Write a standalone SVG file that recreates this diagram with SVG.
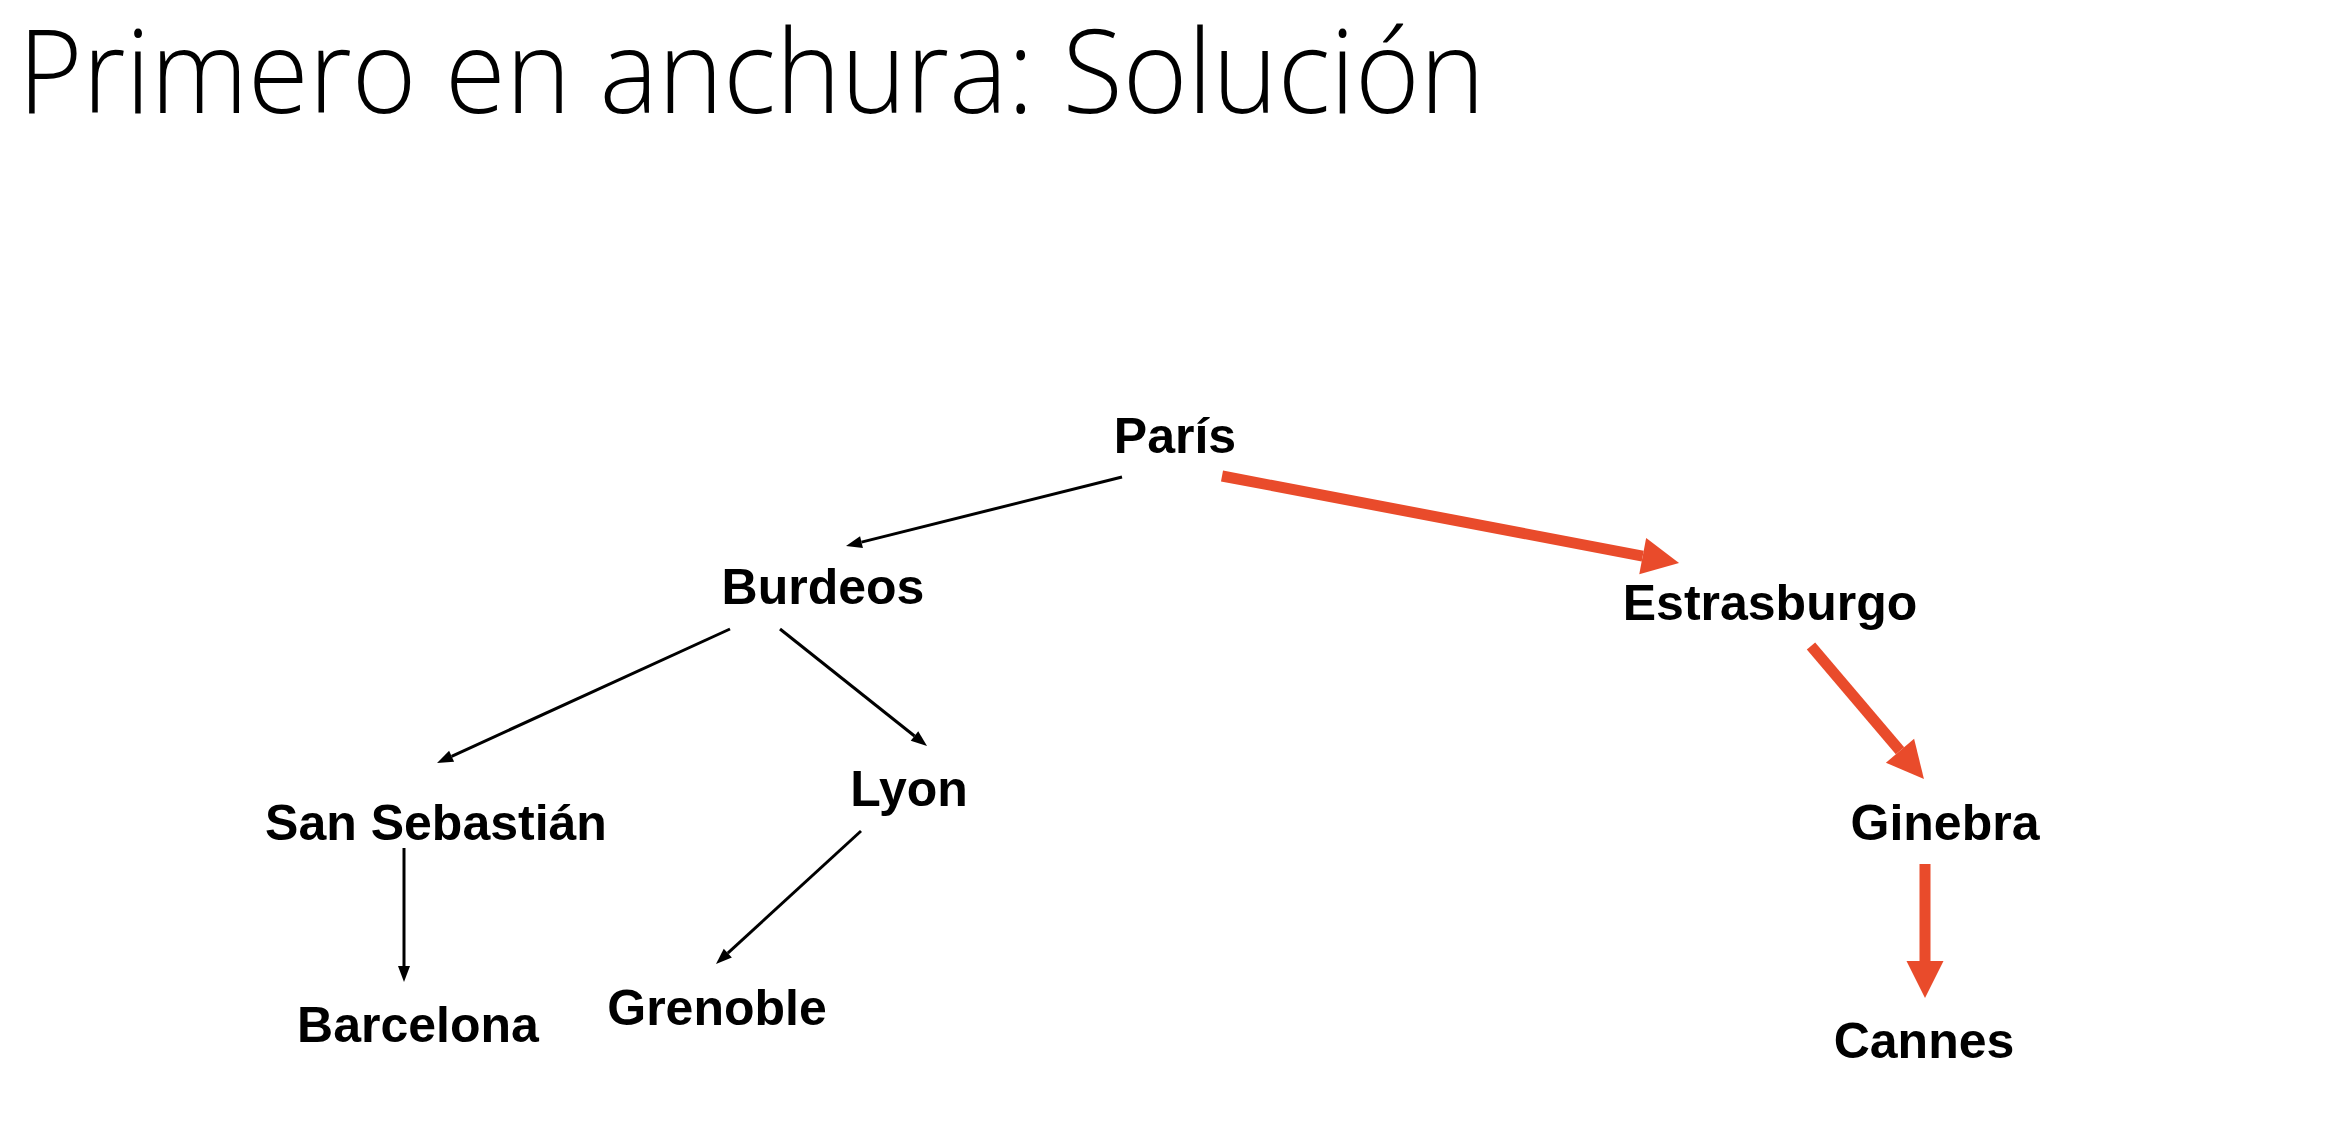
<svg xmlns="http://www.w3.org/2000/svg" width="2328" height="1130" viewBox="0 0 2328 1130">
<style>
.title{font-family:"Open Sans","Liberation Sans",sans-serif;font-weight:300;font-size:116px;fill:#000}
.lbl{font-family:"Liberation Sans",Arial,sans-serif;font-weight:bold;font-size:50px;fill:#000;text-anchor:middle}
.blk{stroke:#000;stroke-width:3;fill:none;marker-end:url(#ah)}
.red{stroke:#E94B2B;stroke-width:11;fill:none;marker-end:url(#ahr)}
</style>
<defs>
<marker id="ah" markerUnits="userSpaceOnUse" markerWidth="16" markerHeight="12" refX="0" refY="6" orient="auto" overflow="visible">
<path d="M0,0 L16,6 L0,12 z" fill="#000"/>
</marker>
<marker id="ahr" markerUnits="userSpaceOnUse" markerWidth="37" markerHeight="37" refX="0" refY="18.5" orient="auto" overflow="visible">
<path d="M0,0 L37,18.5 L0,37 z" fill="#E94B2B"/>
</marker>
</defs>
<rect width="2328" height="1130" fill="#fff"/>
<text class="title" x="18" y="113" textLength="1467" lengthAdjust="spacingAndGlyphs">Primero en anchura: Solución</text>
<g id="connectors">
<line class="blk" x1="1122" y1="477" x2="861.5" y2="542.1"/>
<line class="red" x1="1222" y1="476" x2="1642.7" y2="556.1"/>
<line class="blk" x1="730" y1="629" x2="451.6" y2="756.3"/>
<line class="blk" x1="780" y1="629" x2="914.5" y2="736"/>
<line class="blk" x1="404" y1="848" x2="404" y2="966"/>
<line class="blk" x1="861" y1="831" x2="727.8" y2="953.2"/>
<line class="red" x1="1811" y1="646" x2="1900" y2="750.8"/>
<line class="red" x1="1925" y1="864" x2="1925" y2="961"/>
</g>
<g id="paris"><text class="lbl" x="1175" y="453">París</text></g>
<g id="burdeos"><text class="lbl" x="823" y="604">Burdeos</text></g>
<g id="estrasburgo"><text class="lbl" x="1770" y="620">Estrasburgo</text></g>
<g id="sansebastian"><text class="lbl" x="436" y="840">San Sebastián</text></g>
<g id="lyon"><text class="lbl" x="909" y="806">Lyon</text></g>
<g id="ginebra"><text class="lbl" x="1945" y="840">Ginebra</text></g>
<g id="barcelona"><text class="lbl" x="418" y="1042">Barcelona</text></g>
<g id="grenoble"><text class="lbl" x="717" y="1025">Grenoble</text></g>
<g id="cannes"><text class="lbl" x="1924" y="1058">Cannes</text></g>
</svg>
